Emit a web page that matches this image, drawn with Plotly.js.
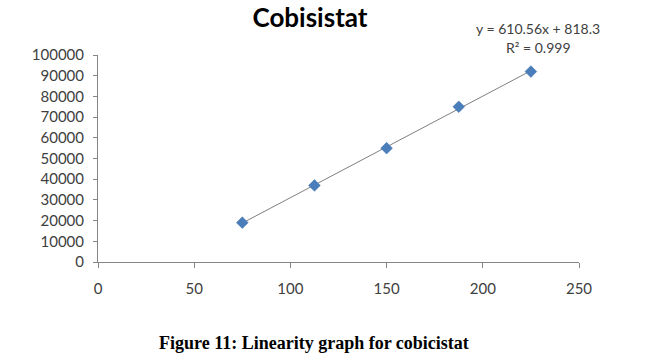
<!DOCTYPE html>
<html><head><meta charset="utf-8">
<script src="https://cdn.plot.ly/plotly-3.0.1.min.js"></script>
<style>html,body{margin:0;padding:0;background:#fff;}#chart{width:648px;height:361px;}</style>
</head><body><div id="chart"></div>
<script>
const concentrations = [75, 112.5, 150, 187.5, 225];
const areas = [19000, 37000, 55000, 75000, 92000];
const xTicks = [0, 50, 100, 150, 200, 250];
const yTicks = [0, 10000, 20000, 30000, 40000, 50000, 60000, 70000, 80000, 90000, 100000];
const titleText = 'Cobisistat';
const eqText = 'y = 610.56x + 818.3';
const r2Text = 'R² = 0.999';
const captionText = 'Figure 11: Linearity graph for cobicistat';

// least-squares trendline through the plotted points
const n = concentrations.length;
const mx = concentrations.reduce((a,b)=>a+b,0)/n;
const my = areas.reduce((a,b)=>a+b,0)/n;
let sxy = 0, sxx = 0;
for (let i = 0; i < n; i++) { sxy += (concentrations[i]-mx)*(areas[i]-my); sxx += (concentrations[i]-mx)**2; }
const b1 = sxy/sxx, b0 = my - b1*mx;
const fitX = [concentrations[0], concentrations[n-1]];
const fitY = fitX.map(v => b1*v + b0);

const axisFont = {family: 'Lato, "Open Sans", sans-serif', size: 15, color: '#404040'};

Plotly.newPlot('chart', [
  {x: fitX, y: fitY, mode: 'lines', line: {color: '#7f7f7f', width: 1}, hoverinfo: 'skip', showlegend: false},
  {x: concentrations, y: areas, mode: 'markers', marker: {symbol: 'diamond', size: 9, color: '#4a7ebb', line: {color: '#3a6aa5', width: 0.5}}, showlegend: false}
], {
  width: 648, height: 361,
  margin: {l: 98, r: 69, t: 55, b: 99},
  paper_bgcolor: '#fff', plot_bgcolor: '#fff',
  title: {text: '<b>' + titleText + '</b>', x: 310/648, xanchor: 'center', y: 1 - 18/361, yanchor: 'middle',
          font: {family: 'Lato, "Open Sans", sans-serif', size: 26, color: '#000'}},
  xaxis: {range: [0, 250], tickvals: xTicks, ticktext: xTicks.map(String), showgrid: false, zeroline: false,
          showline: true, linecolor: '#868686', linewidth: 1, ticks: 'outside', ticklen: 5, tickcolor: '#868686',
          tickfont: axisFont, ticklabelstandoff: 8},
  yaxis: {range: [0, 100000], tickvals: yTicks, ticktext: yTicks.map(String), showgrid: false, zeroline: false,
          showline: true, linecolor: '#868686', linewidth: 1, ticks: 'outside', ticklen: 4, tickcolor: '#868686',
          tickfont: axisFont, ticklabelstandoff: 6},
  annotations: [
    {text: eqText, xref: 'paper', yref: 'paper', x: (538-98)/481, y: (262-28)/207, xanchor: 'center', yanchor: 'middle', showarrow: false,
     font: {family: 'Lato, "Open Sans", sans-serif', size: 14, color: '#404040'}},
    {text: r2Text, xref: 'paper', yref: 'paper', x: (538-98)/481, y: (262-47)/207, xanchor: 'center', yanchor: 'middle', showarrow: false,
     font: {family: 'Lato, "Open Sans", sans-serif', size: 14, color: '#404040'}},
    {text: '<b>' + captionText + '</b>', xref: 'paper', yref: 'paper', x: (314-98)/481, y: (262-343)/207, xanchor: 'center', yanchor: 'middle', showarrow: false,
     font: {family: '"Liberation Serif", "Times New Roman", serif', size: 18, color: '#000'}}
  ]
}, {staticPlot: true});
</script></body></html>
